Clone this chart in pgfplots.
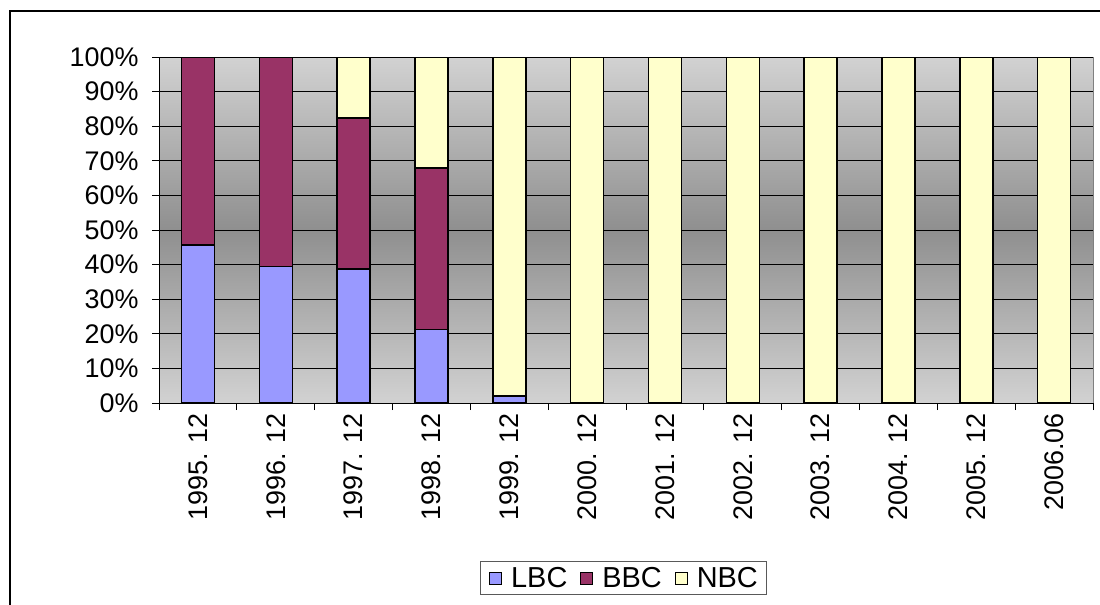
\documentclass[border=0pt]{standalone}
\usepackage{pgfplots}
\pgfplotsset{compat=1.18}
\usepackage{fontspec}
\setmainfont{Liberation Sans}
\definecolor{lbc}{HTML}{9999FF}
\definecolor{bbc}{HTML}{993366}
\definecolor{nbc}{HTML}{FFFFCC}
\definecolor{bglight}{HTML}{D2D2D2}
\definecolor{bgdark}{HTML}{8F8F8F}
\begin{document}
\begin{tikzpicture}
\path[use as bounding box] (0bp,-605bp) rectangle (1100bp,0bp);
\draw[line width=1.2bp] (10bp,-605bp) -- (10bp,-11bp) -- (1100bp,-11bp);
\begin{axis}[
  at={(159bp,-403bp)}, anchor=south west,
  scale only axis, width=934bp, height=346bp,
  ybar stacked, bar width=33bp,
  xmin=-0.5, xmax=11.5, ymin=0, ymax=100,
  axis lines*=left,
  axis line style={black, line width=1bp},
  axis background/.style={top color=bglight, bottom color=bglight, middle color=bgdark, draw=gray, line width=1bp},
  xtick={0,...,11},
  xticklabels={1995. 12,1996. 12,1997. 12,1998. 12,1999. 12,2000. 12,2001. 12,2002. 12,2003. 12,2004. 12,2005. 12,2006.06},
  x tick label style={rotate=90, anchor=east, font=\fontsize{27}{27}\selectfont},
  major x tick style={draw=none},
  minor xtick={-0.5,0.5,...,11.5},
  minor tick length=7bp,
  major tick length=7bp,
  tick align=outside,
  tick style={black, line width=1bp},
  ytick={0,10,...,100},
  yticklabels={0\%,10\%,20\%,30\%,40\%,50\%,60\%,70\%,80\%,90\%,100\%},
  y tick label style={font=\fontsize{27}{27}\selectfont, xshift=-10bp},
  ymajorgrids,
  major grid style={black, line width=0.9bp},
  legend columns=3,
  legend style={draw=gray!70!black, line width=1bp, font=\fontsize{29}{29}\selectfont,
    at={(0.4973,-0.506)}, anchor=center, inner xsep=9bp, inner ysep=4bp,
    nodes={inner xsep=0bp},
    /tikz/every even column/.append style={column sep=13bp},
    /tikz/every odd column/.append style={column sep=9bp}},
  legend image code/.code={\draw[#1, line width=1bp] (0bp,-6bp) rectangle (12bp,6bp);},
  every axis plot/.append style={draw=black, line width=1.5bp},
]
\addplot[fill=lbc] coordinates {(0,45.7) (1,39.4) (2,38.8) (3,21.3) (4,2) (5,0) (6,0) (7,0) (8,0) (9,0) (10,0) (11,0)};
\addplot[fill=bbc] coordinates {(0,54.3) (1,60.6) (2,43.6) (3,46.6) (4,0) (5,0) (6,0) (7,0) (8,0) (9,0) (10,0) (11,0)};
\addplot[fill=nbc] coordinates {(0,0) (1,0) (2,17.6) (3,32.1) (4,98) (5,100) (6,100) (7,100) (8,100) (9,100) (10,100) (11,100)};
\legend{LBC,BBC,NBC}
\end{axis}
\end{tikzpicture}
\end{document}
